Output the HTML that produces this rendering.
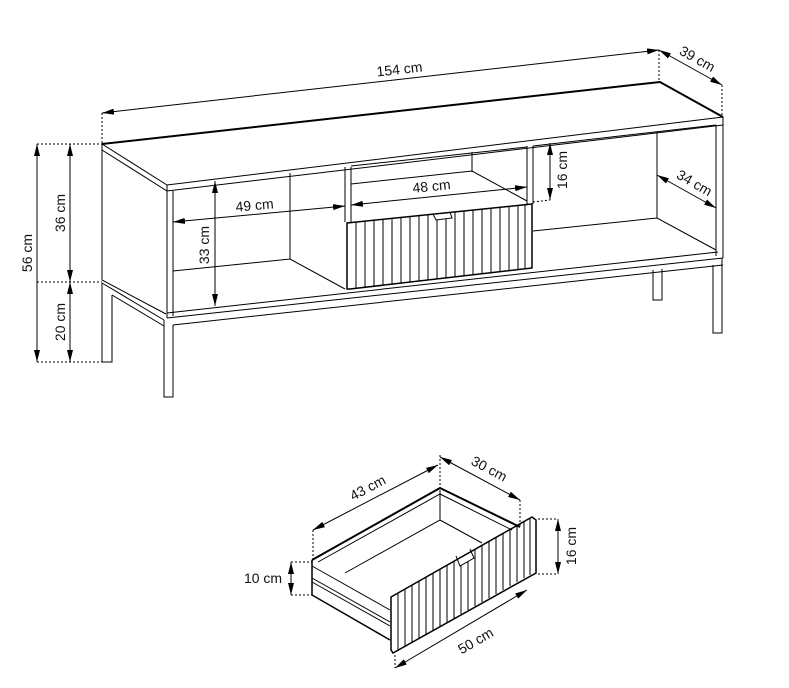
<!DOCTYPE html>
<html><head><meta charset="utf-8"><style>
html,body{margin:0;padding:0;background:#fff;}
svg{display:block;}
text{font-family:"Liberation Sans",sans-serif;font-size:14px;fill:#111;}
</style></head><body>
<svg width="789" height="688" viewBox="0 0 789 688" xmlns="http://www.w3.org/2000/svg">
<defs>
<marker id="a" viewBox="0 0 12 6" refX="12" refY="3" markerWidth="12" markerHeight="6" orient="auto-start-reverse" markerUnits="userSpaceOnUse"><path d="M0,0L12,3L0,6z" fill="#000"/></marker>
</defs>
<g fill="none" stroke="#000" stroke-width="1">
<path d="M102,144L660,82L723,117" stroke-width="2"/>
<path d="M102,144L167,185L723,117"/>
<path d="M102,150L167,191L723,125"/>
<path d="M102,144L102,280L166,314"/>
<path d="M167,185L167,318M173,191L173,316"/>
<path d="M723,117L723,258M716,125L716,256"/>
<path d="M167,313L718,252M167,318L723,258M173,325L723,265"/>
<path d="M102,283L164,320M112,295L164,326"/>
<path d="M102,283L102,362L112,362L112,295"/>
<path d="M164,320L164,397L173,397L173,325"/>
<path d="M713,265L713,333L722,333L722,258"/>
<path d="M653,270L653,300L662,300L662,269"/>
<path d="M290,173L290,259M173,271L290,259L345,289"/>
<path d="M345,167L345,222M351,167L351,222"/>
<path d="M351,184L472,171L527,201M472,152L472,172M351,166L527,147"/>
<path d="M527,146L527,204M533,146L533,204"/>
<path d="M657,132L657,218M533,231L657,218L716,250M533,146L716,125"/>
<path d="M347,223L532,204L532,268L350,289L347,289Z" stroke-width="1.5"/>
<path d="M433,214L436,220L452,218L450,212" />
</g>
<g fill="none" stroke="#000" stroke-width="1">
<path d="M312,560L440,488L520,527" stroke-width="2"/>
<path d="M318,562L440,494L512,530"/>
<path d="M312,560L312,595L390,640" stroke-width="1.5"/>
<path d="M312,566L390,610M312,578L390,622M312,582L390,626"/>
<path d="M440,490L440,520M345,573L440,520L482,543"/>
<path d="M391,597L532,517L536,520L536,573L393,653L391,650Z" stroke-width="1.5"/>
<path d="M456,556L460,566L474,558L470,549"/>
</g>
<g fill="none" stroke="#000" stroke-width="1">
<path d="M102,113L659,50" marker-start="url(#a)" marker-end="url(#a)"/>
<path d="M659,50L722,85" marker-start="url(#a)" marker-end="url(#a)"/>
<path d="M37,144L37,362" marker-start="url(#a)" marker-end="url(#a)"/>
<path d="M70,144L70,282" marker-start="url(#a)" marker-end="url(#a)"/>
<path d="M70,282L70,362" marker-start="url(#a)" marker-end="url(#a)"/>
<path d="M215,181L215,306" marker-start="url(#a)" marker-end="url(#a)"/>
<path d="M173,222L345,206" marker-start="url(#a)" marker-end="url(#a)"/>
<path d="M351,205L527,187" marker-start="url(#a)" marker-end="url(#a)"/>
<path d="M550,143L550,200" marker-start="url(#a)" marker-end="url(#a)"/>
<path d="M657,175L716,208" marker-start="url(#a)" marker-end="url(#a)"/>
<path d="M313,530L438,465" marker-start="url(#a)" marker-end="url(#a)"/>
<path d="M440,457L520,500" marker-start="url(#a)" marker-end="url(#a)"/>
<path d="M558,519L558,574" marker-start="url(#a)" marker-end="url(#a)"/>
<path d="M291,562L291,595" marker-start="url(#a)" marker-end="url(#a)"/>
<path d="M395,668L527,590" marker-start="url(#a)" marker-end="url(#a)"/>
</g>
<g fill="none" stroke="#000" stroke-width="1" stroke-dasharray="2,2">
<path d="M102,113L102,144M659,50L659,82M722,85L722,117M37,144L102,144M37,282L102,282M37,362L102,362M533,202L550,200"/>
<path d="M313,530L313,560M440,455L440,488M520,500L520,527M538,519L558,519M538,574L558,574M291,562L312,562M291,595L312,595M395,655L395,668"/>
</g>
<text x="400" y="74" text-anchor="middle" transform="rotate(-6.4 400 74)">154 cm</text>
<text x="695" y="63" text-anchor="middle" transform="rotate(29 695 63)">39 cm</text>
<text x="32" y="253" text-anchor="middle" transform="rotate(-90 32 253)">56 cm</text>
<text x="65" y="213" text-anchor="middle" transform="rotate(-90 65 213)">36 cm</text>
<text x="65" y="322" text-anchor="middle" transform="rotate(-90 65 322)">20 cm</text>
<text x="209" y="245" text-anchor="middle" transform="rotate(-90 209 245)">33 cm</text>
<text x="255" y="210" text-anchor="middle" transform="rotate(-5.3 255 210)">49 cm</text>
<text x="432" y="191" text-anchor="middle" transform="rotate(-5.8 432 191)">48 cm</text>
<text x="567" y="170" text-anchor="middle" transform="rotate(-90 567 170)">16 cm</text>
<text x="692" y="187" text-anchor="middle" transform="rotate(30 692 187)">34 cm</text>
<text x="370" y="492" text-anchor="middle" transform="rotate(-28 370 492)">43 cm</text>
<text x="487" y="473" text-anchor="middle" transform="rotate(28 487 473)">30 cm</text>
<text x="576" y="546" text-anchor="middle" transform="rotate(-90 576 546)">16 cm</text>
<text x="263" y="583" text-anchor="middle">10 cm</text>
<text x="478" y="645" text-anchor="middle" transform="rotate(-30 478 645)">50 cm</text>
<g stroke="#000" stroke-width="1">
<line x1="356" y1="222" x2="356" y2="288"/><line x1="365" y1="221" x2="365" y2="287"/><line x1="374" y1="220" x2="374" y2="286"/><line x1="383" y1="219" x2="383" y2="285"/><line x1="392" y1="218" x2="392" y2="284"/><line x1="401" y1="217" x2="401" y2="283"/><line x1="410" y1="216" x2="410" y2="282"/><line x1="419" y1="215" x2="419" y2="281"/><line x1="428" y1="214" x2="428" y2="280"/><line x1="437" y1="220" x2="437" y2="279"/><line x1="446" y1="219" x2="446" y2="278"/><line x1="455" y1="212" x2="455" y2="277"/><line x1="464" y1="211" x2="464" y2="276"/><line x1="473" y1="210" x2="473" y2="275"/><line x1="482" y1="209" x2="482" y2="274"/><line x1="491" y1="208" x2="491" y2="273"/><line x1="500" y1="207" x2="500" y2="272"/><line x1="509" y1="206" x2="509" y2="271"/><line x1="518" y1="205" x2="518" y2="270"/><line x1="525" y1="205" x2="525" y2="269"/>
<line x1="398" y1="593" x2="398" y2="650"/><line x1="405" y1="589" x2="405" y2="646"/><line x1="412" y1="585" x2="412" y2="642"/><line x1="419" y1="581" x2="419" y2="638"/><line x1="426" y1="577" x2="426" y2="634"/><line x1="433" y1="573" x2="433" y2="630"/><line x1="440" y1="569" x2="440" y2="626"/><line x1="447" y1="565" x2="447" y2="622"/><line x1="454" y1="561" x2="454" y2="618"/><line x1="461" y1="565" x2="461" y2="614"/><line x1="468" y1="561" x2="468" y2="610"/><line x1="475" y1="549" x2="475" y2="606"/><line x1="482" y1="545" x2="482" y2="602"/><line x1="489" y1="541" x2="489" y2="598"/><line x1="496" y1="537" x2="496" y2="594"/><line x1="503" y1="533" x2="503" y2="590"/><line x1="510" y1="529" x2="510" y2="586"/><line x1="517" y1="525" x2="517" y2="582"/><line x1="524" y1="521" x2="524" y2="578"/><line x1="530" y1="518" x2="530" y2="575"/>
</g>
</svg>
</body></html>
